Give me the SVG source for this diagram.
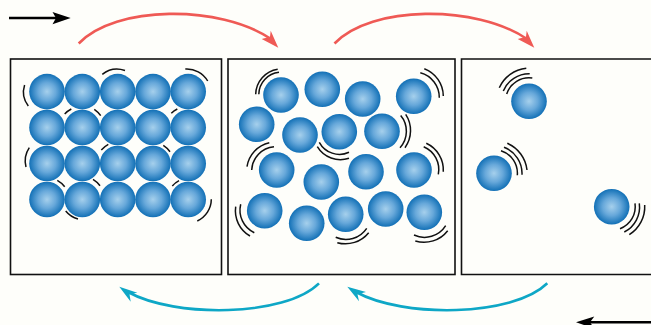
<svg xmlns="http://www.w3.org/2000/svg" width="651" height="325" viewBox="0 0 651 325">
<style>
.box{fill:none;stroke:#111;stroke-width:1.6}
.ball{fill:url(#sphere);r:17.8px}
.m{fill:none;stroke:#111;stroke-width:1.5;stroke-linecap:butt}
.red{fill:none;stroke:#ef5a55;stroke-width:2.6}
.redh{fill:#ef5a55}
.teal{fill:none;stroke:#0ea7c6;stroke-width:2.6}
.tealh{fill:#0ea7c6}
.dir{fill:none;stroke:#000;stroke-width:2.5}
</style>
<defs>
<radialGradient id="sphere" cx="50%" cy="50%" r="50%">
<stop offset="0" stop-color="#a6d0ec"/>
<stop offset="0.5" stop-color="#67a8da"/>
<stop offset="1" stop-color="#1270b6"/>
</radialGradient>
</defs>
<rect width="651" height="325" fill="#fefefa"/>

<g id="panel-dense">
<rect class="box" x="10.500" y="59" width="211" height="215.500"/>
<g>
<circle class="ball" cx="47" cy="91.600"/><circle class="ball" cx="82.300" cy="91.600"/><circle class="ball" cx="117.700" cy="91.600"/><circle class="ball" cx="153" cy="91.600"/><circle class="ball" cx="188.200" cy="91.600"/>
<circle class="ball" cx="47" cy="127.500"/><circle class="ball" cx="82.300" cy="127.500"/><circle class="ball" cx="117.700" cy="127.500"/><circle class="ball" cx="153" cy="127.500"/><circle class="ball" cx="188.200" cy="127.500"/>
<circle class="ball" cx="47" cy="163.500"/><circle class="ball" cx="82.300" cy="163.500"/><circle class="ball" cx="117.700" cy="163.500"/><circle class="ball" cx="153" cy="163.500"/><circle class="ball" cx="188.200" cy="163.500"/>
<circle class="ball" cx="47" cy="199.500"/><circle class="ball" cx="82.300" cy="199.500"/><circle class="ball" cx="117.700" cy="199.500"/><circle class="ball" cx="153" cy="199.500"/><circle class="ball" cx="188.200" cy="199.500"/>
</g>
<g>
<path class="m" d="M24.600 85A23 23 0 0 0 28.300 106"/>
<path class="m" d="M102.300 74.300A24 24 0 0 1 125 70.500"/>
<path class="m" d="M185.300 69A24 24 0 0 1 207.700 81"/>
<path class="m" d="M64.700 114A24 24 0 0 1 71.300 109"/>
<path class="m" d="M94.300 109.300A24 24 0 0 1 100.700 115.700"/>
<path class="m" d="M171.300 113.300A24 24 0 0 1 177.300 109"/>
<path class="m" d="M29.300 147.700A24 24 0 0 0 26 167"/>
<path class="m" d="M101.300 150A24 24 0 0 1 108.300 144.300"/>
<path class="m" d="M163.300 145.300A24 24 0 0 1 170 151.700"/>
<path class="m" d="M57.300 180.300A24 24 0 0 1 64.700 186.700"/>
<path class="m" d="M93 179.300A24 24 0 0 1 100 185.700"/>
<path class="m" d="M172.300 186A24 24 0 0 1 179 180.700"/>
<path class="m" d="M65.700 211A24 24 0 0 0 78 219"/>
<path class="m" d="M211.300 199.300A24 24 0 0 1 197.300 221"/>
</g>
</g>

<g id="panel-loose">
<rect class="box" x="228" y="59" width="227" height="215.500"/>
<g>
<circle class="ball" cx="281" cy="95"/><circle class="ball" cx="322.300" cy="89.300"/><circle class="ball" cx="362.700" cy="99"/><circle class="ball" cx="413.700" cy="96.300"/>
<circle class="ball" cx="256.700" cy="124.300"/><circle class="ball" cx="300" cy="135"/><circle class="ball" cx="339.300" cy="131.700"/><circle class="ball" cx="382" cy="131.300"/>
<circle class="ball" cx="276.700" cy="170"/><circle class="ball" cx="321.300" cy="182"/><circle class="ball" cx="366" cy="171.700"/><circle class="ball" cx="414" cy="170"/>
<circle class="ball" cx="264.700" cy="210.700"/><circle class="ball" cx="306.700" cy="223.300"/><circle class="ball" cx="345.700" cy="214.300"/><circle class="ball" cx="385.700" cy="209"/><circle class="ball" cx="424.300" cy="212.300"/>
</g>
<g>
<path class="m" d="M255.700 94.300A26 26 0 0 1 277.700 69.300"/>
<path class="m" d="M258.800 94.300A22.500 22.500 0 0 1 279 72.300"/>
<path class="m" d="M424.300 68.700A29.600 29.600 0 0 1 443.300 96"/>
<path class="m" d="M420.300 72.700A25.500 25.500 0 0 1 439.300 97.700"/>
<path class="m" d="M400.700 115.500A24.500 24.500 0 0 1 400 147.700"/>
<path class="m" d="M405.700 114.300A29.500 29.500 0 0 1 405 147.700"/>
<path class="m" d="M319.300 142.300A23 23 0 0 0 349 152.300"/>
<path class="m" d="M317.300 146.700A27 27 0 0 0 349 158.300"/>
<path class="m" d="M269.300 142.700A29 29 0 0 0 247 166.700"/>
<path class="m" d="M274 146.700A24.500 24.500 0 0 0 251.700 170"/>
<path class="m" d="M426.300 143.300A29.500 29.500 0 0 1 443.300 171.700"/>
<path class="m" d="M423.700 146.700A24.800 24.800 0 0 1 438.300 174.300"/>
<path class="m" d="M235.700 206.700A29 29 0 0 0 250 236"/>
<path class="m" d="M240.700 204.300A24.800 24.800 0 0 0 254.300 232.700"/>
<path class="m" d="M335.700 237.300A25 25 0 0 0 366.700 228.300"/>
<path class="m" d="M337.300 242.700A30 30 0 0 0 368.700 232.700"/>
<path class="m" d="M414 235A25 25 0 0 0 445.700 225.700"/>
<path class="m" d="M415.300 241A30 30 0 0 0 447.700 230.700"/>
</g>
</g>

<g id="panel-sparse">
<path class="box" d="M651 59H461.500V274.500H651"/>
<g>
<circle class="ball" cx="529" cy="101.300"/><circle class="ball" cx="494" cy="173.300"/><circle class="ball" cx="611.700" cy="206.700"/>
</g>
<g>
<path class="m" d="M499.300 87.700A33 33 0 0 1 526.300 68.300"/>
<path class="m" d="M503.300 91A28 28 0 0 1 529.700 73.700"/>
<path class="m" d="M506.700 94A23.500 23.500 0 0 1 532.300 78"/>
<path class="m" d="M507.300 143.300A33 33 0 0 1 527 170"/>
<path class="m" d="M504 147.300A28 28 0 0 1 522 174.700"/>
<path class="m" d="M501 150.700A23.500 23.500 0 0 1 517.300 175.300"/>
<path class="m" d="M644.700 205A33 33 0 0 1 629.300 234.700"/>
<path class="m" d="M639.300 203.300A28 28 0 0 1 624.300 232"/>
<path class="m" d="M635 203.300A23.500 23.500 0 0 1 620 228.700"/>
</g>
</g>

<g id="connectors">
<path class="dir" d="M9 18H56"/>
<path d="M52.500 12L70.700 18L52.500 24.200L56 18Z"/>
<path class="dir" d="M651 322.300H590"/>
<path d="M594.300 316.500L576 322.300L594.300 328.500L590 322.300Z"/>

<path class="red" d="M78.700 43.500C115 5 220 4.500 271 39"/>
<path class="redh" d="M278.300 47.700L270.700 30.700L270 36.800L261.700 39Z"/>
<path class="red" d="M334.500 43.500C371 5 476 4.500 527 39"/>
<path class="redh" d="M534.300 47.700L526.700 30.700L526 36.800L517.700 39Z"/>

<path class="teal" d="M319 283.300C285 317 175 318 128 292"/>
<path class="tealh" d="M119.300 286.700L137.300 292.700L129.500 294.300L130.700 301.700Z"/>
<path class="teal" d="M547.300 283.300C513 317 403 318 356 292"/>
<path class="tealh" d="M347.300 286.700L366 292L357.500 294.300L359 301.300Z"/>
</g>
</svg>
